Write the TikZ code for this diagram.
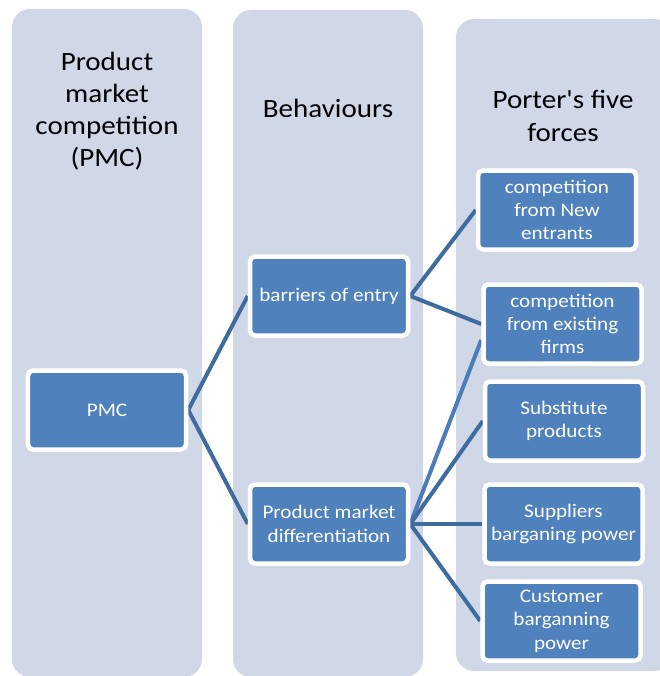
\documentclass[tikz,border=0pt]{standalone}
\usepackage{fontspec}
\setmainfont{Carlito}[FakeStretch=1.1,Ligatures=TeXOff]
\usetikzlibrary{calc}
\definecolor{colfill}{HTML}{D0D8E8}
\definecolor{boxfill}{HTML}{4F81BD}
\definecolor{linkcol}{HTML}{3F6C9F}
\definecolor{linklight}{HTML}{4A7DBA}
\pgfdeclarelayer{cols}
\pgfdeclarelayer{links}
\pgfsetlayers{cols,links,main}

\begin{document}
\begin{tikzpicture}[x=1bp,y=-1bp,
  column/.style={fill=colfill, rounded corners=18bp},
  item/.style={draw=white, line width=4.5bp, fill=boxfill, rounded corners=5bp,
    minimum width=158bp, minimum height=79bp, inner sep=0pt, align=center,
    text=white, font=\fontsize{19.3}{23.5}\selectfont},
  head/.style={align=center, text=black, font=\fontsize{26.5}{32.3}\selectfont},
  link/.style={draw=linkcol, line width=4bp}]
\useasboundingbox (0,0) rectangle (660,676);

% three background columns
\begin{pgfonlayer}{cols}
  \fill[column] (12,9) rectangle (202,677);
  \fill[column] (233,10) rectangle (423,677);
  \fill[column] (456,19) rectangle (672,671);
\end{pgfonlayer}

% column headings
\node[head] (h1) at (107,111) {Product\\market\\competition\\(PMC)};
\node[head] (h2) at (328,108) {Behaviours};
\node[head] (h3) at (563,116) {Porter's five\\forces};

% boxes
\node[item] (pmc) at (107,410) {PMC};
\node[item] (boe) at (329,296) {barriers of entry};
\node[item] (pmd) at (329,524) {Product market\\differentiation};
\node[item] (ne)  at (557,210) {competition\\from New\\entrants};
\node[item] (ef)  at (562.5,324) {competition\\from existing\\firms};
\node[item] (sp)  at (564,421) {Substitute\\products};
\node[item] (sup) at (563.5,524) {Suppliers\\barganing power};
\node[item] (cus) at (561.5,621) {Customer\\barganning\\power};

% connectors
\begin{pgfonlayer}{links}
  \draw[link] (pmc.east) -- (boe.west);
  \draw[link] (pmc.east) -- (pmd.west);
  \draw[link] (boe.east) -- (ne.west);
  \draw[link] (boe.east) -- (ef.west);
  \draw[link, draw=linklight] (pmd.east) -- ($(ef.west)+(0,16)$);
  \draw[link] (pmd.east) -- (sp.west);
  \draw[link] (pmd.east) -- (sup.west);
  \draw[link] (pmd.east) -- (cus.west);
\end{pgfonlayer}
\end{tikzpicture}
\end{document}
